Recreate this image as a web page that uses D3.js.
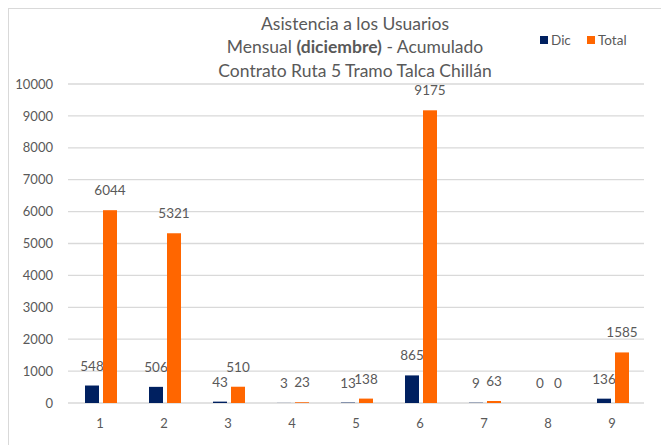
<!DOCTYPE html>
<html><head><meta charset="utf-8">
<script src="https://cdn.jsdelivr.net/npm/d3@7/dist/d3.min.js"></script>
<style>body{margin:0;background:#fff;} text{font-family:"Lato","Open Sans",sans-serif;fill:#595959;}</style>
</head><body>
<svg id="c" width="661" height="445"></svg>
<script>
const categories = ["1","2","3","4","5","6","7","8","9"];
const dic = [548,506,43,3,13,865,9,0,136];
const total = [6044,5321,510,23,138,9175,63,0,1585];
const yTicks = [0,1000,2000,3000,4000,5000,6000,7000,8000,9000,10000];
const seriesNames = ["Dic","Total"];
const colors = ["#002060","#FF6600"];

(function(){
const svg = d3.select("#c");
svg.append("rect").attr("x",8.5).attr("y",8.5).attr("width",700).attr("height",500)
  .attr("fill","#fff").attr("stroke","#d9d9d9");

const pL=68,pR=644,pT=84,pB=403;
const x = d3.scaleBand().domain(categories).range([pL,pR]);
const y = d3.scaleLinear().domain([0,10000]).range([pB,pT]);
const barW=14, gap=4;

svg.append("g").selectAll("line").data(yTicks).join("line")
  .attr("x1",pL).attr("x2",pR).attr("y1",d=>y(d)).attr("y2",d=>y(d))
  .attr("stroke","#d9d9d9").attr("stroke-width",1.3);

const ya = svg.append("g").attr("transform",`translate(${pL},0)`)
  .call(d3.axisLeft(y).tickValues(yTicks).tickSize(0).tickPadding(15).tickFormat(d3.format("d")));
ya.select(".domain").remove();
ya.selectAll("text").attr("font-size",13).attr("font-family","Lato").attr("fill","#595959");

const xa = svg.append("g").attr("transform",`translate(0,${pB})`)
  .call(d3.axisBottom(x).tickSize(0).tickPadding(16));
xa.select(".domain").remove();
xa.selectAll("text").attr("font-size",13).attr("font-family","Lato").attr("fill","#595959");

const series=[dic,total];
series.forEach((vals,si)=>{
  const off = si===0 ? -gap/2-barW : gap/2;
  const g = svg.append("g");
  g.selectAll("rect").data(vals).join("rect")
    .attr("x",(d,i)=>x(categories[i])+x.bandwidth()/2+off+1)
    .attr("y",d=>y(d)).attr("width",barW).attr("height",d=>pB-y(d))
    .attr("fill",colors[si]);
  g.selectAll("text").data(vals).join("text")
    .attr("x",(d,i)=>x(categories[i])+x.bandwidth()/2+off+1+barW/2)
    .attr("y",d=>y(d)-15)
    .attr("text-anchor","middle").attr("font-size",13.5).text(d=>d);
});

const t = svg.append("text").attr("text-anchor","middle").attr("font-size",17.5);
t.append("tspan").attr("x",355).attr("y",30).text("Asistencia a los Usuarios");
const l2 = t.append("tspan").attr("x",355).attr("y",53);
l2.append("tspan").text("Mensual ");
l2.append("tspan").attr("font-weight","bold").text("(diciembre)");
l2.append("tspan").text(" - Acumulado");
t.append("tspan").attr("x",355).attr("y",77).text("Contrato Ruta 5 Tramo Talca Chillán");

const lg = svg.append("g");
const lx=[540,587];
seriesNames.forEach((n,i)=>{
  lg.append("rect").attr("x",lx[i]).attr("y",36).attr("width",8).attr("height",8).attr("fill",colors[i]);
  lg.append("text").attr("x",lx[i]+11).attr("y",45).attr("font-size",13.5).text(n);
});
})();
</script>
</body></html>
